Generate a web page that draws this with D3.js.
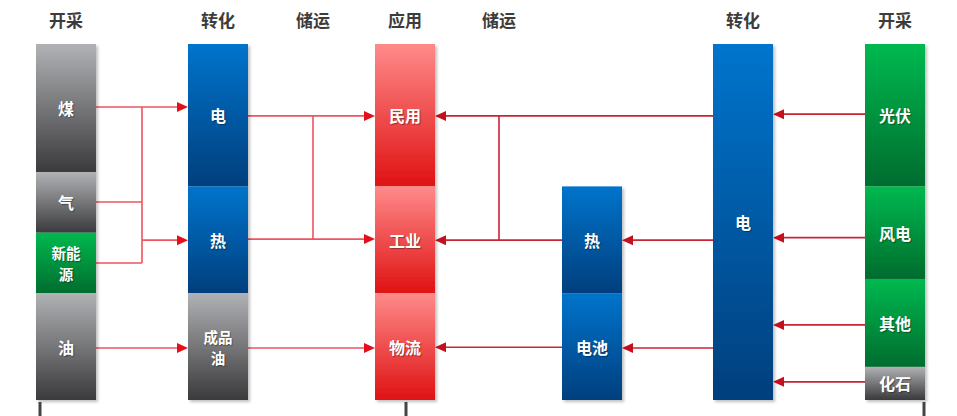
<!DOCTYPE html>
<html><head><meta charset="utf-8">
<script src="https://cdn.jsdelivr.net/npm/d3@7"></script>
<style>
html,body{margin:0;padding:0;background:#fff;}
svg{display:block;font-family:"Noto Sans CJK SC","Noto Sans",sans-serif;}
.lbl{text-shadow:1px 1px 1px rgba(0,0,0,0.35);}
</style></head>
<body>
<svg id="chart" width="957" height="416"></svg>
<script>
// ---- data ----
const slots = ["A","J1","B","S1","C","S2","D","E","F"];
const headers = ["开采","转化","储运","应用","储运","转化","开采"];
const headerSlots = ["A","B","S1","C","S2","E","F"];

const colA_names = ["煤","气","新能\n源","油"];
const colA_values = [36,17,17,30];
const colA_kinds = ["gray","gray","green","gray"];

const colB_names = ["电","热","成品\n油"];
const colB_values = [40,30,30];
const colB_kinds = ["blue","blue","gray"];

const colC_names = ["民用","工业","物流"];
const colC_values = [40,30,30];
const colC_kinds = ["red","red","red"];

const colD_names = ["热","电池"];
const colD_values = [30,30];
const colD_kinds = ["blue","blue"];

const colE_names = ["电"];
const colE_values = [100];
const colE_kinds = ["blue"];

const colF_names = ["光伏","风电","其他","化石"];
const colF_values = [40,26,24.7,9.3];
const colF_kinds = ["green","green","green","gray"];

// flows: inputs [slot, y], outputs [slot, y], junction slot
const buses = [
  {side:"L", junction:"J1", inputs:[["A",82.3],["A",55.6],["A",38.5]], outputs:[["B",82.3],["B",44.9]]},
  {side:"L", junction:null, inputs:[["A",14.6]], outputs:[["B",14.6]]},
  {side:"L", junction:"S1", inputs:[["B",79.8],["B",45.2]], outputs:[["C",79.8],["C",45.2]]},
  {side:"L", junction:null, inputs:[["B",14.6]], outputs:[["C",14.6]]},
  {side:"R", junction:"S2", inputs:[["E",79.8],["D",44.9]], outputs:[["C",79.8],["C",44.9]]},
  {side:"R", junction:null, inputs:[["D",14.8]], outputs:[["C",14.8]]},
  {side:"R", junction:null, inputs:[["E",44.9]], outputs:[["D",44.9]]},
  {side:"R", junction:null, inputs:[["E",14.6]], outputs:[["D",14.6]]},
  {side:"R", junction:null, inputs:[["F",80.3]], outputs:[["E",80.3]]},
  {side:"R", junction:null, inputs:[["F",45.6]], outputs:[["E",45.6]]},
  {side:"R", junction:null, inputs:[["F",21.1]], outputs:[["E",21.1]]},
  {side:"R", junction:null, inputs:[["F",5.1]], outputs:[["E",5.1]]}
];
const axisTickSlots = ["A","C","F"];

// ---- build ----
const columns = [
  {slot:"A", top:100, names:colA_names, values:colA_values, kinds:colA_kinds},
  {slot:"B", top:100, names:colB_names, values:colB_values, kinds:colB_kinds},
  {slot:"C", top:100, names:colC_names, values:colC_values, kinds:colC_kinds},
  {slot:"D", top:60,  names:colD_names, values:colD_values, kinds:colD_kinds},
  {slot:"E", top:100, names:colE_names, values:colE_values, kinds:colE_kinds},
  {slot:"F", top:100, names:colF_names, values:colF_values, kinds:colF_kinds}
];

const svg = d3.select("#chart");
const x = d3.scaleOrdinal().domain(slots).range([66,142,218,313,405,499,592,743,895]);
const y = d3.scaleLinear().domain([0,100]).range([400,44]);
const barW = 60;

const defs = svg.append("defs");
const grads = {
  gray:["#b1b2b5","#3a3a3c"],
  blue:["#0074cc","#003f7d"],
  red:["#ff8a8a","#df1212"],
  green:["#00b94f","#006c2e"]
};
Object.entries(grads).forEach(([k,c])=>{
  const g = defs.append("linearGradient").attr("id","g-"+k).attr("x1",0).attr("y1",0).attr("x2",0).attr("y2",1);
  g.append("stop").attr("offset","0%").attr("stop-color",c[0]);
  g.append("stop").attr("offset","100%").attr("stop-color",c[1]);
});
const f = defs.append("filter").attr("id","shadow").attr("x","-20%").attr("y","-20%").attr("width","140%").attr("height","140%");
f.append("feDropShadow").attr("dx",2).attr("dy",2).attr("stdDeviation",1.5).attr("flood-color","#000").attr("flood-opacity",0.25);

// headers
svg.append("g").selectAll("text").data(headers).join("text")
  .attr("x",(d,i)=>x(headerSlots[i])).attr("y",19)
  .attr("text-anchor","middle").attr("dominant-baseline","central")
  .attr("font-size",17).attr("font-weight","bold").attr("fill","#3c3c3c")
  .text(d=>d);

// flows
const colors = {L:{line:"#ee5360", head:"#e3101c"}, R:{line:"#c92532", head:"#c4101c"}};
const edge = (slot, towardX) => towardX > x(slot) ? x(slot)+barW/2 : x(slot)-barW/2;
const flowG = svg.append("g");
const heads = [];
buses.forEach(b=>{
  const c = colors[b.side];
  if (b.junction){
    const jx = x(b.junction);
    b.inputs.forEach(([s,v])=>{
      flowG.append("line").attr("x1",edge(s,jx)).attr("x2",jx).attr("y1",y(v)).attr("y2",y(v))
        .attr("stroke",c.line).attr("stroke-width",1.6);
    });
    b.outputs.forEach(([s,v])=>{
      const ex = edge(s,jx);
      const dir = ex > jx ? 1 : -1;
      flowG.append("line").attr("x1",jx).attr("x2",ex - dir*8).attr("y1",y(v)).attr("y2",y(v))
        .attr("stroke",c.line).attr("stroke-width",1.6);
      heads.push({x:ex, y:y(v), dir, color:c.head});
    });
    const allY = b.inputs.concat(b.outputs).map(d=>y(d[1]));
    flowG.append("line").attr("x1",jx).attr("x2",jx).attr("y1",d3.min(allY)).attr("y2",d3.max(allY))
      .attr("stroke",c.line).attr("stroke-width",1.6);
  } else {
    const [s,v1] = b.inputs[0];
    const [t,v2] = b.outputs[0];
    const x1 = edge(s,x(t)), x2 = edge(t,x(s));
    const dir = x2 > x1 ? 1 : -1;
    flowG.append("line").attr("x1",x1).attr("x2",x2 - dir*8).attr("y1",y(v1)).attr("y2",y(v2))
      .attr("stroke",c.line).attr("stroke-width",1.6);
    heads.push({x:x2, y:y(v2), dir, color:c.head});
  }
});
flowG.selectAll("path.head").data(heads).join("path").attr("class","head")
  .attr("d",d=>`M${d.x},${d.y} L${d.x-d.dir*11},${d.y-5} L${d.x-d.dir*11},${d.y+5} Z`)
  .attr("fill",d=>d.color);

// bars
const barG = svg.append("g");
columns.forEach(col=>{
  let cur = col.top;
  col.values.forEach((v,i)=>{
    const top = cur, bot = cur - v;
    cur = bot;
    const g = barG.append("g");
    g.append("rect").attr("x",x(col.slot)-barW/2).attr("y",y(top)).attr("width",barW).attr("height",y(bot)-y(top))
      .attr("fill","url(#g-"+col.kinds[i]+")").attr("filter","url(#shadow)");
    const lines = col.names[i].split("\n");
    const cy = (y(top)+y(bot))/2;
    const multi = lines.length > 1;
    const lh = 21;
    const fs = multi ? 14.5 : 16;
    g.append("text").attr("class","lbl").attr("text-anchor","middle").attr("fill","#fff")
      .attr("font-size",fs).attr("font-weight","bold")
      .attr("x",x(col.slot)).attr("y",cy)
      .attr("dominant-baseline","central")
      .selectAll("tspan").data(lines).join("tspan")
      .attr("x",x(col.slot)).attr("dy",(d,j)=> j===0 ? -(lines.length-1)/2*lh : lh)
      .text(d=>d);
  });
});

// baseline axis
const axisG = svg.append("g");
axisG.append("line").attr("x1",10).attr("x2",952).attr("y1",y(0)+1.5).attr("y2",y(0)+1.5)
  .attr("stroke","#444").attr("stroke-width",4).attr("filter","url(#shadow)");
const tickX = {A:x("A")-26, C:x("C")+1, F:x("F")+29};
axisG.selectAll("line.tick").data(axisTickSlots).join("line").attr("class","tick")
  .attr("x1",d=>tickX[d]).attr("x2",d=>tickX[d]).attr("y1",y(0)+2).attr("y2",416)
  .attr("stroke","#444").attr("stroke-width",3);
</script>
</body></html>
